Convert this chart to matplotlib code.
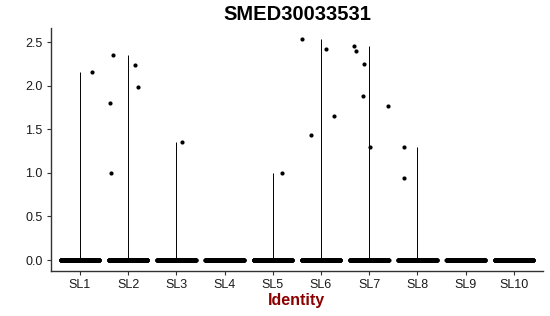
import numpy as np
import matplotlib
matplotlib.use("Agg")
import matplotlib.pyplot as plt

plt.rcParams['font.family'] = ['Liberation Sans', 'DejaVu Sans']

# clusters and expression values of the non-zero cells
groups = ['SL1', 'SL2', 'SL3', 'SL4', 'SL5', 'SL6', 'SL7', 'SL8', 'SL9', 'SL10']
nonzero_vals = [
    [2.16],
    [2.35, 1.80, 1.00, 2.24, 1.99],
    [1.35],
    [],
    [1.00],
    [2.53, 2.42, 1.65, 1.43],
    [2.46, 2.40, 2.25, 1.88, 1.30, 1.77],
    [1.30, 0.94],
    [],
    [],
]
# number of cells with zero expression in each cluster (estimated)
zero_counts = [300, 300, 300, 300, 300, 300, 300, 300, 300, 280]

# horizontal jitter of the non-zero cells
jitter = [
    [0.25],
    [-0.31, -0.38, -0.36, 0.14, 0.21],
    [0.11],
    [],
    [0.20],
    [-0.39, 0.11, 0.26, -0.20],
    [-0.32, -0.27, -0.10, -0.12, 0.01, 0.38],
    [-0.27, -0.27],
    [],
    [],
]

fig = plt.figure(figsize=(5.5, 3.16), dpi=100)
ax = fig.add_axes([0.0927, 0.1424, 0.8943, 0.7686])

pos = np.arange(1, len(groups) + 1)
for i, x in enumerate(pos):
    vals = nonzero_vals[i]
    # violin collapses to a line when nearly all cells are zero
    if vals:
        ax.vlines(x, 0, max(vals), color='black', lw=0.7, zorder=1)
    # zero cells spread across the jitter width
    zx = x + np.linspace(-0.4, 0.4, zero_counts[i])
    ax.scatter(zx, np.zeros_like(zx), s=9, color='black', linewidths=0, zorder=2)
    if vals:
        ax.scatter(x + np.array(jitter[i]), vals, s=9, color='black',
                   linewidths=0, zorder=2)

ax.set_xlim(0.4, 10.6)
ax.set_ylim(-0.126, 2.66)
ax.set_xticks(pos)
ax.set_xticklabels(groups)
ax.set_yticks([0, 0.5, 1.0, 1.5, 2.0, 2.5])
ax.set_yticklabels(['0.0', '0.5', '1.0', '1.5', '2.0', '2.5'])

for side in ['top', 'right']:
    ax.spines[side].set_visible(False)
for side in ['left', 'bottom']:
    ax.spines[side].set_linewidth(1.0)
    ax.spines[side].set_color('#333333')
ax.tick_params(length=3, width=0.8, color='#333333', labelsize=9,
               labelcolor='#1a1a1a', pad=3)

ax.set_title('SMED30033531', fontsize=14.5, fontweight='bold', pad=6)
ax.set_xlabel('Identity', fontsize=11.5, fontweight='bold', color='#8B0000',
              labelpad=1)

fig.savefig('out.png', dpi=100)
